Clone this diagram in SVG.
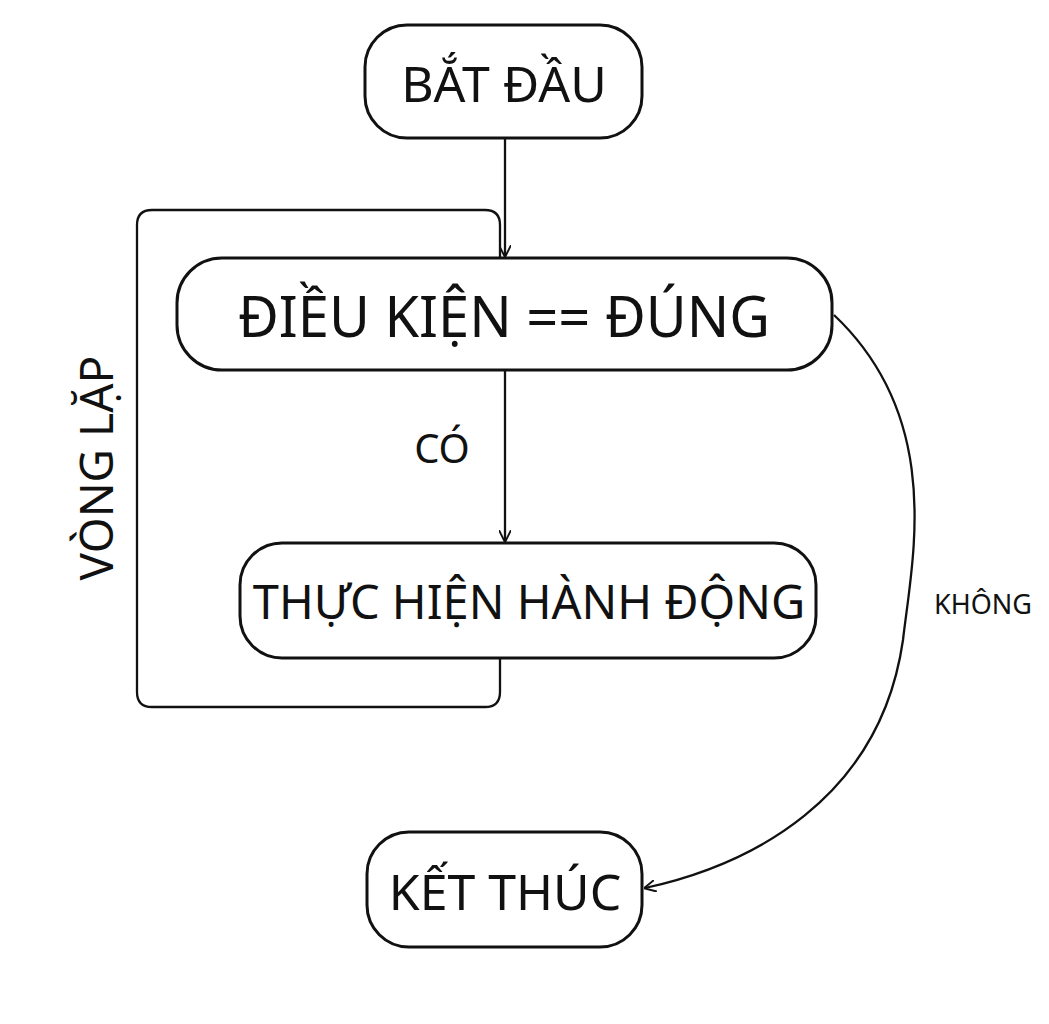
<svg xmlns="http://www.w3.org/2000/svg" width="1049" height="1024" viewBox="0 0 1049 1024">
<style>
.n{fill:#fff;stroke:#111;stroke-width:3}
.t{font-family:"Noto Sans","DejaVu Sans",sans-serif;fill:#111;text-anchor:middle;dominant-baseline:central}
.c{fill:none;stroke:#111;stroke-width:2.3}
</style>
<defs><marker id="a" viewBox="0 0 10 10" refX="9" refY="5" markerWidth="12" markerHeight="12" markerUnits="userSpaceOnUse" orient="auto"><path d="M0,0L10,5L0,10" fill="none" stroke="#111" stroke-width="1.6"/></marker></defs>
<rect width="1049" height="1024" fill="#fff"/>
<g id="loop"><path class="c" d="M500,258V225Q500,210 485,210H152Q137,210 137,225V692Q137,707 152,707H485Q500,707 500,692V658" stroke-width="2.6"/>
<text class="t" x="95" y="468" font-size="46" transform="rotate(-90 95 468)">VÒNG LẶP</text></g>
<g id="connectors">
<path class="c" d="M505,138V256" marker-end="url(#a)"/>
<path class="c" d="M505,370V541" marker-end="url(#a)"/>
<path class="c" d="M834,315C945,420 912,560 903,640C880,800 750,865 645,888" marker-end="url(#a)"/>
<text class="t" x="442" y="447" font-size="40">CÓ</text>
<text class="t" x="983" y="603" font-size="27">KHÔNG</text>
</g>
<g id="start"><rect class="n" x="365" y="25" width="277" height="113" rx="42"/><text class="t" x="504" y="83" font-size="50">BẮT ĐẦU</text></g>
<g id="cond"><rect class="n" x="177" y="258" width="655" height="112" rx="45"/><text class="t" x="504" y="315" font-size="56">ĐIỀU KIỆN == ĐÚNG</text></g>
<g id="act"><rect class="n" x="240" y="543" width="576" height="115" rx="42"/><text class="t" x="529" y="601" font-size="47">THỰC HIỆN HÀNH ĐỘNG</text></g>
<g id="end"><rect class="n" x="367" y="832" width="275" height="115" rx="42"/><text class="t" x="505" y="891" font-size="50">KẾT THÚC</text></g>
</svg>
